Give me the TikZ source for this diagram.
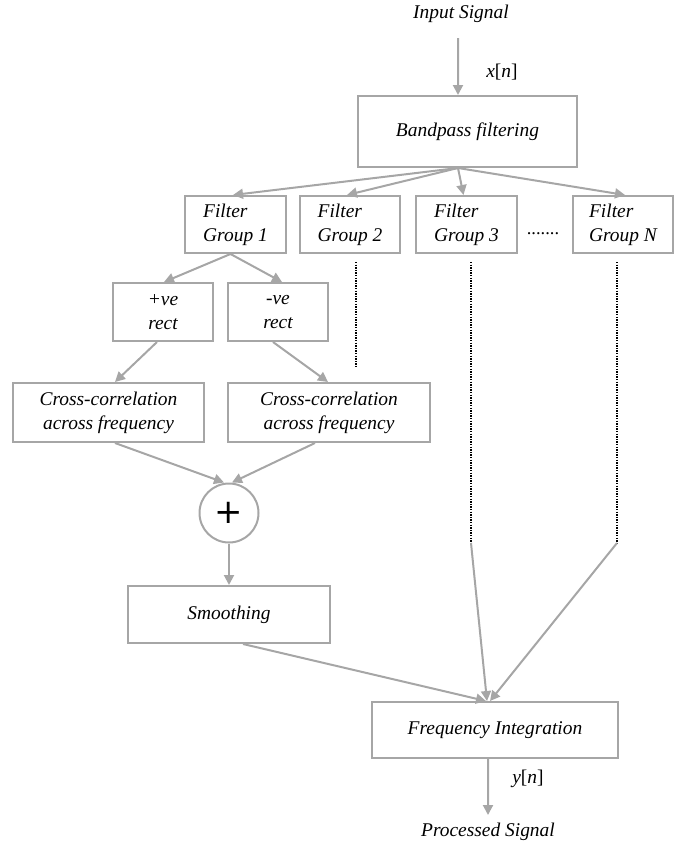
\documentclass[tikz,border=0pt]{standalone}
\usepackage{fontspec}
\setmainfont{Liberation Serif}
\newfontfamily\plusfont{DejaVu Sans}
\usetikzlibrary{arrows.meta}
\definecolor{lg}{HTML}{A6A6A6}
\begin{document}
\begin{tikzpicture}[x=1bp,y=-1bp,
  every node/.style={font=\fontsize{19.5}{24}\selectfont\itshape},
  box/.style={draw=lg,line width=2bp,inner sep=0pt,align=center},
  arr/.style={draw=lg,line width=2bp,-{Triangle[length=10bp,width=10bp]}},
  dots/.style={draw=black,line width=1.3bp,dash pattern=on 1.3bp off 1.3bp}]
\useasboundingbox (0,0) rectangle (684,845);

% nodes
\node (in) at (461,14) {Input Signal};
\node (xn) at (502,72) {x\upshape[\itshape n\upshape]};
\node[box,minimum width=219bp,minimum height=71bp] (bp) at (467.5,131.5) {Bandpass filtering};
\node[box,minimum width=101bp,minimum height=57bp,align=left] (fg1) at (235.5,224.5) {Filter\\Group 1};
\node[box,minimum width=100bp,minimum height=57bp,align=left] (fg2) at (350,224.5) {Filter\\Group 2};
\node[box,minimum width=101bp,minimum height=57bp,align=left] (fg3) at (466.5,224.5) {Filter\\Group 3};
\node[box,minimum width=100bp,minimum height=57bp,align=left] (fgn) at (623,224.5) {Filter\\Group N};
\node[font=\fontsize{18.5}{24}\selectfont\upshape] (ell) at (543,234) {.......};
\node[box,minimum width=100bp,minimum height=58bp] (pos) at (163,312) {+ve\\rect};
\node[box,minimum width=100bp,minimum height=58bp] (neg) at (278,312) {-ve\\rect};
\node[box,minimum width=191bp,minimum height=59bp] (cc1) at (108.5,412.5) {Cross-correlation\\across frequency};
\node[box,minimum width=202bp,minimum height=59bp] (cc2) at (329,412.5) {Cross-correlation\\across frequency};
\node[circle,draw=lg,line width=2bp,minimum size=59bp,inner sep=0pt,font=\plusfont\fontsize{34}{34}\selectfont] (sum) at (229,513) {+};
\node[box,minimum width=202bp,minimum height=57bp] (sm) at (229,614.5) {Smoothing};
\node[box,minimum width=246bp,minimum height=56bp] (fi) at (495,730) {Frequency Integration};
\node (yn) at (528,779) {y\upshape[\itshape n\upshape]};
\node (out) at (488,832) {Processed Signal};

% coordinates for free ends
\coordinate (a0) at (458,38);
\coordinate (d2a) at (356,262);
\coordinate (d2b) at (356,368);
\coordinate (d3a) at (471,262);
\coordinate (d3b) at (471,543);
\coordinate (dna) at (617,262);
\coordinate (dnb) at (617,543);
\coordinate (oend) at (488,815);

% connectors
\draw[arr] (a0) -- ([xshift=-9.5bp]bp.north);
\draw[arr] ([xshift=-9.5bp]bp.south) -- ([xshift=-2.5bp]fg1.north);
\draw[arr] ([xshift=-9.5bp]bp.south) -- ([xshift=-3bp]fg2.north);
\draw[arr] ([xshift=-9.5bp]bp.south) -- ([xshift=-3bp]fg3.north);
\draw[arr] ([xshift=-9.5bp]bp.south) -- ([xshift=2bp]fgn.north);
\draw[arr] ([xshift=-5bp]fg1.south) -- ([xshift=1bp]pos.north);
\draw[arr] ([xshift=-5bp]fg1.south) -- ([xshift=4bp]neg.north);
\draw[arr] ([xshift=-6bp]pos.south) -- ([xshift=6.5bp]cc1.north);
\draw[arr] ([xshift=-5bp]neg.south) -- ([xshift=-1bp]cc2.north);
\draw[arr] ([xshift=6.5bp]cc1.south) -- ([xshift=-5bp]sum.north);
\draw[arr] ([xshift=-14bp]cc2.south) -- ([xshift=3bp]sum.north);
\draw[arr] (sum.south) -- (sm.north);
\draw[arr] ([xshift=14bp]sm.south) -- ([xshift=-9bp]fi.north);
\draw[dots] (d2a) -- (d2b);
\draw[dots] (d3a) -- (d3b);
\draw[dots] (dna) -- (dnb);
\draw[arr] (d3b) -- ([xshift=-8bp]fi.north);
\draw[arr] (dnb) -- ([xshift=-5bp]fi.north);
\draw[arr] ([xshift=-7bp]fi.south) -- (oend);
\end{tikzpicture}
\end{document}
